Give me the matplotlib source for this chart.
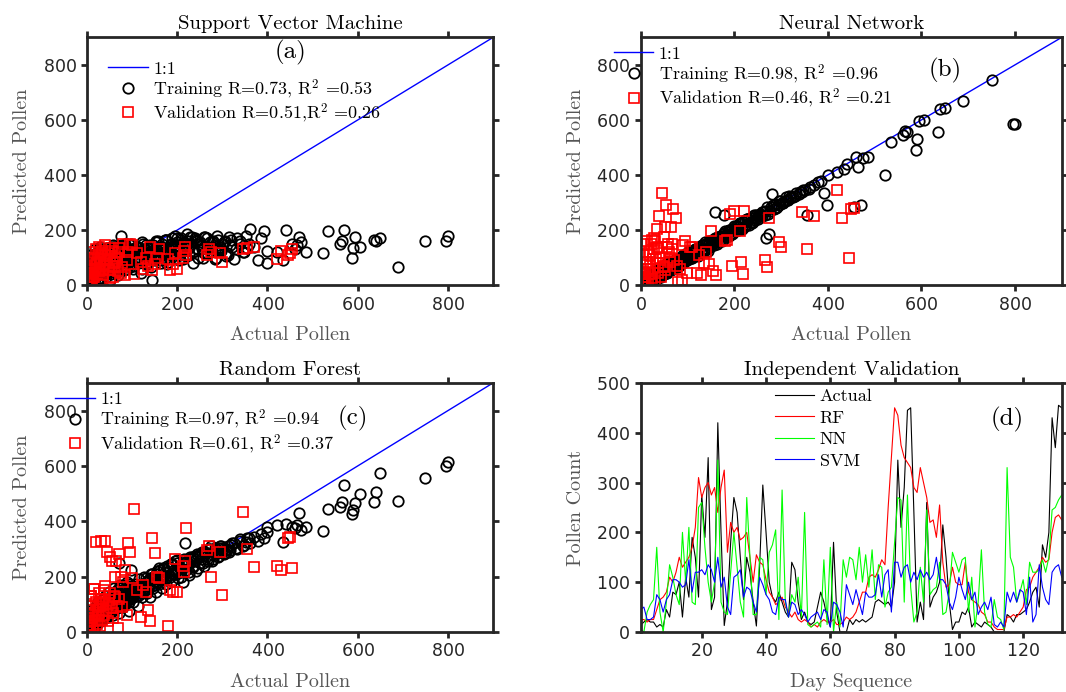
import numpy as np
import matplotlib
matplotlib.use('Agg')
from matplotlib import pyplot as plt

plt.rcParams['mathtext.fontset'] = 'cm'
plt.rcParams['font.family'] = ['cmr10', 'DejaVu Serif']
plt.rcParams['axes.formatter.use_mathtext'] = True

# training set: observed pollen (shared) and model predictions
train_actual = [2, 3, 5, 6, 8, 10, 12, 14, 15, 18, 20, 22, 25, 27, 30, 32, 35, 38, 40, 42,
                45, 48, 50, 53, 55, 58, 60, 63, 65, 68, 70, 72, 75, 78, 80, 83, 85, 88, 90, 93,
                95, 98, 102, 105, 108, 112, 115, 118, 122, 125, 128, 132, 135, 140, 143, 147, 150, 153, 158, 162,
                165, 170, 175, 178, 182, 186, 190, 195, 198, 203, 208, 212, 217, 222, 226, 230, 235, 240, 245, 250,
                256, 262, 268, 274, 280, 286, 292, 298, 305, 312, 318, 325, 332, 340, 348, 355, 362, 370, 378, 385,
                392, 398, 400, 420, 435, 440, 455, 460, 465, 470, 475, 485, 522, 535, 560, 565, 570, 588, 590, 595,
                605, 635, 640, 650, 690, 750, 795, 800,
                1, 2, 4, 4, 5, 7, 7, 9, 9, 11, 11, 13, 13, 16, 16, 17, 19, 19, 21, 21,
                23, 24, 26, 26, 28, 29, 31, 33, 34, 36, 37, 39, 41, 43, 44, 46, 47, 49, 51, 52,
                54, 56, 57, 59, 61, 62, 64, 66, 67, 69, 71, 73, 74, 76, 77, 79, 81, 82, 84, 86,
                87, 89, 91, 92, 94, 96, 97, 99, 104, 110, 117, 124, 130, 137, 145, 152, 160, 167, 173, 180,
                188, 193, 200, 206, 214, 220, 228, 237, 243, 253, 259, 265, 271, 277, 283, 289, 295, 302, 310, 320,
                3, 6, 8, 10, 12, 14, 17, 20, 22, 25, 28, 30, 33, 35, 38, 40, 43, 45, 48, 50,
                53, 55, 58, 60, 63, 65, 68, 70, 73, 75, 78, 80, 83, 85, 88, 90, 93, 95, 98, 100,
                103, 106, 109, 113, 116, 119, 123, 126, 129, 133, 136, 139, 142, 146, 149, 152, 156, 159, 163, 166,
                169, 172, 176, 179, 183, 186, 189, 192, 196, 199, 202, 205, 209, 213, 216, 219, 223, 227, 232, 236,
                241, 246, 251, 255, 260, 266, 272, 278, 284, 290, 296, 303, 308, 315, 322, 330, 338, 345, 352, 360]
train_svm = [15, 40, 25, 60, 30, 80, 45, 20, 95, 55, 110, 35, 70, 120, 50, 90, 125, 65, 100, 40,
             115, 75, 130, 60, 95, 140, 80, 110, 50, 125, 90, 135, 180, 70, 115, 100, 140, 60, 120, 85,
             145, 105, 130, 70, 115, 140, 95, 125, 60, 150, 105, 135, 85, 120, 20, 145, 100, 130, 160, 90,
             140, 115, 165, 75, 130, 150, 105, 180, 140, 120, 165, 95, 145, 185, 110, 150, 80, 170, 130, 155,
             100, 175, 140, 120, 160, 100, 145, 130, 160, 110, 145, 95, 170, 150, 120, 135, 205, 140, 90, 170,
             195, 125, 80, 120, 90, 200, 150, 130, 145, 175, 155, 120, 115, 195, 150, 160, 200, 100, 135, 175,
             140, 165, 160, 170, 65, 160, 160, 180,
             5, 20, 10, 35, 0, 50, 15, 65, 25, 85, 10, 40, 100, 20, 70, 55, 115, 30, 90, 60,
             45, 105, 25, 80, 130, 60, 95, 40, 120, 75, 50, 110, 85, 30, 135, 70, 100, 55, 125, 90,
             40, 115, 80, 140, 65, 100, 45, 130, 90, 110, 75, 125, 60, 145, 95, 110, 130, 70, 120, 100,
             140, 85, 115, 95, 130, 75, 150, 110, 125, 100, 135, 110, 145, 95, 125, 155, 110, 140, 165, 120,
             150, 130, 170, 110, 155, 140, 175, 125, 160, 145, 115, 170, 135, 155, 125, 180, 140, 150, 115, 165,
             70, 35, 110, 55, 90, 15, 130, 65, 100, 45, 140, 80, 25, 120, 60, 100, 45, 135, 85, 20,
             115, 70, 145, 50, 95, 130, 35, 110, 75, 140, 90, 120, 55, 150, 80, 105, 130, 65, 95, 125,
             60, 100, 140, 85, 120, 45, 155, 95, 130, 75, 110, 145, 65, 125, 90, 160, 105, 135, 80, 150,
             120, 95, 165, 85, 140, 110, 170, 130, 100, 155, 145, 90, 170, 125, 150, 105, 160, 135, 175, 120,
             165, 100, 150, 130, 175, 115, 155, 140, 95, 165, 125, 155, 105, 175, 140, 130, 160, 120, 180, 150]
train_nn = [5, 10, 0, 15, 5, 20, 10, 25, 15, 30, 25, 35, 20, 40, 35, 45, 30, 50, 45, 55,
            40, 60, 55, 70, 45, 65, 75, 60, 80, 70, 85, 65, 90, 80, 95, 85, 100, 80, 105, 95,
            110, 100, 110, 115, 100, 125, 120, 130, 115, 140, 125, 145, 130, 150, 125, 160, 145, 165, 265, 155,
            175, 165, 185, 255, 180, 195, 185, 205, 190, 215, 200, 225, 205, 235, 220, 240, 230, 245, 235, 255,
            250, 265, 170, 185, 330, 290, 285, 305, 300, 310, 325, 320, 335, 340, 345, 255, 355, 365, 375, 380,
            335, 290, 400, 410, 420, 440, 285, 465, 430, 290, 460, 465, 400, 520, 545, 560, 555, 490, 530, 595,
            600, 555, 640, 645, 670, 745, 585, 585,
            0, 5, 10, 0, 15, 5, 20, 0, 15, 25, 5, 20, 30, 10, 35, 25, 15, 40, 30, 20,
            35, 15, 45, 30, 40, 20, 50, 45, 25, 55, 45, 30, 60, 50, 35, 65, 55, 40, 70, 60,
            65, 45, 75, 60, 70, 55, 80, 65, 75, 60, 85, 70, 80, 90, 75, 95, 85, 70, 100, 90,
            80, 105, 95, 85, 110, 100, 90, 115, 125, 105, 130, 140, 120, 155, 150, 145, 170, 175, 160, 195,
            200, 185, 215, 205, 225, 210, 240, 225, 255, 250, 265, 255, 285, 270, 290, 280, 305, 300, 320, 315,
            20, 0, 25, 5, 30, 20, 35, 10, 40, 30, 15, 45, 35, 50, 25, 55, 30, 60, 40, 70,
            45, 75, 50, 80, 55, 70, 85, 60, 90, 80, 65, 95, 75, 100, 80, 110, 85, 105, 90, 115,
            95, 120, 100, 125, 110, 130, 105, 140, 120, 145, 125, 150, 130, 155, 140, 160, 145, 170, 150, 175,
            160, 180, 165, 190, 175, 195, 180, 200, 185, 205, 195, 215, 200, 225, 205, 230, 215, 240, 220, 245,
            230, 255, 240, 260, 250, 270, 260, 285, 275, 295, 290, 300, 305, 310, 320, 325, 330, 340, 345, 350]
train_rf = [5, 15, 10, 25, 15, 30, 20, 40, 25, 45, 30, 55, 40, 60, 45, 65, 50, 75, 55, 80,
            60, 85, 70, 95, 75, 100, 80, 110, 85, 115, 90, 250, 100, 120, 105, 130, 110, 140, 115, 150,
            120, 225, 125, 150, 130, 160, 135, 170, 140, 175, 150, 185, 155, 195, 165, 200, 170, 210, 180, 225,
            190, 230, 195, 240, 205, 245, 210, 255, 220, 235, 200, 250, 320, 255, 215, 265, 240, 275, 230, 280,
            250, 290, 255, 310, 265, 300, 275, 305, 285, 310, 295, 320, 300, 330, 315, 340, 320, 345, 330, 355,
            340, 380, 360, 385, 325, 390, 380, 375, 385, 430, 370, 380, 365, 445, 450, 470, 530, 425, 440, 465,
            500, 470, 505, 575, 475, 555, 600, 615,
            10, 0, 20, 5, 30, 10, 35, 15, 40, 20, 45, 25, 55, 10, 60, 35, 70, 25, 50, 80,
            30, 65, 45, 90, 40, 75, 55, 100, 60, 85, 70, 105, 50, 95, 80, 115, 65, 100, 120, 75,
            90, 130, 80, 110, 140, 95, 85, 125, 150, 100, 135, 90, 160, 110, 145, 120, 105, 170, 130, 115,
            150, 125, 140, 160, 110, 175, 130, 145, 160, 150, 170, 150, 195, 165, 210, 185, 230, 200, 215, 230,
            245, 210, 250, 230, 265, 240, 270, 255, 280, 265, 290, 275, 300, 280, 305, 285, 310, 300, 295, 315,
            40, 15, 60, 25, 80, 35, 50, 95, 45, 110, 70, 40, 115, 60, 90, 130, 75, 55, 145, 100,
            80, 125, 60, 160, 95, 140, 105, 70, 170, 115, 135, 90, 155, 100, 180, 120, 75, 165, 130, 150,
            110, 175, 140, 95, 190, 155, 125, 200, 165, 140, 180, 125, 210, 160, 190, 145, 220, 175, 200, 160,
            230, 190, 175, 215, 200, 245, 185, 225, 210, 260, 195, 240, 215, 180, 260, 225, 250, 205, 270, 235,
            220, 275, 250, 290, 240, 265, 300, 255, 285, 270, 310, 280, 300, 290, 320, 305, 335, 310, 325, 340]

# validation set
val_actual = [455, 450, 445, 430, 420, 370, 355, 345, 300, 295, 275, 270, 265, 220, 218, 215, 212, 200, 195, 190,
              185, 180, 160, 155, 150, 145, 140, 135, 130, 120, 105, 100, 95, 90, 85, 80, 75, 70, 65, 60,
              55, 50, 45, 40, 35, 30, 25, 20, 15, 12, 10, 8, 5, 3, 2, 28, 33, 38, 48, 52,
              58, 62, 68, 72, 78, 88, 110, 125,
              1, 3, 4, 6, 7, 9, 11, 13, 14, 16, 17, 19, 21, 23, 24, 26, 27, 29, 31, 34,
              36, 37, 41, 43, 46, 49, 53, 57, 63, 67]
val_svm = [130, 115, 110, 125, 95, 140, 135, 130, 85, 115, 120, 130, 110, 110, 140, 125, 100, 60, 115, 75,
           55, 95, 130, 100, 75, 55, 140, 70, 100, 85, 40, 145, 150, 120, 35, 150, 45, 135, 100, 70,
           125, 25, 90, 110, 60, 115, 40, 80, 30, 60, 20, 45, 10, 30, 15, 95, 20, 75, 55, 105,
           30, 85, 50, 120, 65, 90, 115, 60,
           20, 55, 35, 70, 15, 90, 45, 120, 30, 100, 60, 130, 40, 75, 110, 50, 140, 85, 65, 125,
           35, 95, 145, 70, 115, 55, 135, 80, 105, 95]
val_nn = [280, 278, 100, 245, 345, 250, 130, 265, 140, 155, 245, 65, 90, 270, 40, 85, 195, 270, 70, 260,
          165, 160, 35, 50, 195, 75, 120, 80, 35, 45, 140, 45, 160, 145, 60, 10, 245, 275, 210, 120,
          290, 175, 335, 250, 205, 160, 165, 110, 60, 80, 30, 15, 40, 5, 20, 130, 95, 140, 70, 210,
          150, 100, 130, 90, 70, 20, 140, 110,
          60, 10, 110, 30, 150, 45, 20, 85, 160, 5, 120, 70, 40, 150, 25, 95, 60, 170, 15, 135,
          80, 45, 100, 30, 115, 65, 55, 140, 85, 150]
val_rf = [230, 345, 340, 225, 240, 235, 300, 435, 135, 290, 200, 310, 295, 375, 255, 215, 240, 145, 265, 145,
          150, 20, 195, 200, 285, 340, 40, 80, 145, 55, 445, 195, 290, 320, 225, 180, 200, 280, 255, 130,
          255, 140, 290, 330, 110, 330, 80, 325, 155, 60, 130, 40, 25, 15, 50, 95, 120, 150, 100, 270,
          70, 200, 15, 120, 90, 60, 150, 170,
          15, 70, 35, 100, 25, 130, 50, 20, 80, 155, 40, 110, 60, 30, 90, 140, 70, 20, 120, 45,
          100, 60, 165, 75, 40, 115, 85, 50, 125, 95]

train_R = {'svm': ('0.73', '0.53'), 'nn': ('0.98', '0.96'), 'rf': ('0.97', '0.94')}
val_R = {'svm': ('0.51', '0.26'), 'nn': ('0.46', '0.21'), 'rf': ('0.61', '0.37')}

# independent validation time series (132 days)
actual = [14, 20, 25, 20, 20, 10, 15, 10, 45, 30, 80, 75, 100, 30, 110, 70, 190, 150, 70, 275,
          190, 350, 45, 70, 420, 200, 13, 60, 180, 270, 240, 150, 65, 150, 120, 60, 12, 130, 295, 200,
          100, 70, 60, 80, 60, 40, 30, 140, 125, 60, 25, 40, 20, 15, 20, 50, 80, 60, 30, 10,
          180, 40, 0, 0, 0, 25, 15, 25, 20, 25, 20, 25, 30, 60, 65, 60, 55, 60, 50, 100,
          345, 210, 290, 445, 450, 240, 20, 60, 25, 260, 50, 70, 80, 100, 215, 150, 60, 5, 20, 20,
          40, 35, 50, 10, 20, 15, 10, 20, 15, 10, 0, 0, 0, 0, 35, 30, 20, 35, 35, 40,
          45, 60, 80, 90, 50, 175, 150, 200, 430, 370, 455, 450]
rf = [25, 25, 20, 25, 25, 45, 65, 70, 80, 110, 100, 120, 150, 130, 140, 150, 170, 210, 310, 270,
      290, 300, 275, 290, 240, 290, 325, 160, 220, 200, 210, 185, 190, 200, 150, 100, 155, 140, 135, 105,
      80, 70, 55, 60, 70, 50, 40, 30, 40, 25, 20, 25, 20, 10, 15, 10, 20, 25, 20, 20,
      25, 15, 15, 20, 30, 25, 30, 40, 60, 80, 80, 110, 115, 110, 125, 145, 135, 250, 350, 450,
      435, 375, 350, 340, 330, 290, 280, 330, 300, 270, 220, 225, 190, 255, 140, 90, 95, 130, 100, 95,
      95, 140, 80, 65, 60, 55, 40, 35, 20, 20, 10, 5, 5, 5, 30, 30, 35, 30, 40, 50,
      85, 90, 110, 120, 130, 150, 140, 145, 200, 230, 235, 225]
nn = [5, 0, 40, 55, 65, 170, 40, 0, 60, 135, 110, 75, 55, 200, 100, 210, 60, 55, 250, 260,
      170, 100, 60, 100, 345, 60, 40, 35, 120, 200, 130, 60, 30, 270, 150, 35, 35, 150, 145, 75,
      160, 175, 205, 25, 285, 60, 30, 75, 60, 110, 30, 240, 15, 10, 15, 20, 10, 145, 15, 170,
      0, 60, 10, 145, 110, 150, 145, 105, 170, 100, 155, 90, 165, 65, 135, 130, 50, 80, 90, 180,
      270, 265, 60, 275, 90, 20, 40, 130, 60, 245, 75, 85, 90, 140, 35, 40, 80, 160, 140, 120,
      145, 150, 40, 110, 10, 60, 165, 40, 15, 10, 65, 30, 25, 5, 330, 150, 130, 60, 80, 105,
      55, 140, 120, 120, 125, 145, 120, 150, 245, 250, 265, 275]
svm = [45, 50, 25, 25, 30, 75, 65, 40, 65, 75, 105, 105, 100, 90, 95, 145, 80, 120, 120, 125,
       115, 135, 125, 100, 150, 90, 110, 50, 35, 110, 115, 125, 70, 90, 85, 60, 40, 110, 95, 75,
       65, 40, 35, 70, 65, 65, 30, 60, 55, 35, 45, 35, 20, 30, 35, 40, 25, 45, 40, 10,
       60, 55, 40, 10, 95, 75, 55, 85, 60, 35, 80, 70, 70, 75, 115, 70, 115, 125, 40, 140,
       140, 110, 130, 135, 100, 120, 105, 125, 110, 120, 105, 115, 150, 105, 105, 95, 60, 45, 70, 110,
       85, 65, 100, 65, 80, 35, 50, 60, 45, 70, 15, 10, 20, 10, 80, 60, 80, 60, 85, 80,
       35, 110, 20, 35, 135, 90, 65, 55, 120, 130, 135, 110]
days = np.arange(1, len(actual) + 1)

SPINE = '#262626'
LABEL = '#555555'


def style(ax):
    for s in ax.spines.values():
        s.set_linewidth(2.0)
        s.set_color(SPINE)
    ax.tick_params(direction='out', length=4, width=2.0, color=SPINE,
                   top=True, right=True, labelsize=12.5, labelcolor=SPINE)
    for lab in ax.get_xticklabels() + ax.get_yticklabels():
        lab.set_family('DejaVu Sans')


def scatter_panel(ax, key, title, tag, tagxy, leg_x, leg_y, comma=', '):
    tr = train_R[key]
    va = val_R[key]
    ax.plot([0, 900], [0, 900], color='#0000ff', lw=1.0, label='1:1')
    ax.plot(train_actual, {'svm': train_svm, 'nn': train_nn, 'rf': train_rf}[key], 'o',
            mfc='none', mec='k', ms=7.5, mew=1.3,
            label=r'Training R=%s, $\mathrm{R}^2$ =%s' % tr)
    ax.plot(val_actual, {'svm': val_svm, 'nn': val_nn, 'rf': val_rf}[key], 's',
            mfc='none', mec='#ff0000', ms=6.5, mew=1.2,
            label=r'Validation R=%s%s$\mathrm{R}^2$ =%s' % (va[0], comma, va[1]))
    ax.set_xlim(0, 900)
    ax.set_ylim(0, 900)
    ax.set_xticks([0, 200, 400, 600, 800])
    ax.set_yticks([0, 200, 400, 600, 800])
    style(ax)
    ax.set_title(title, fontsize=15, pad=6)
    ax.set_xlabel('Actual Pollen', fontsize=14.5, color=LABEL, labelpad=9)
    ax.set_ylabel('Predicted Pollen', fontsize=14.5, color=LABEL, labelpad=8)
    ax.text(tagxy[0], tagxy[1], tag, fontsize=18, ha='center', va='center')
    ax.legend(loc='upper left', bbox_to_anchor=(leg_x, leg_y), frameon=False,
              fontsize=13, borderpad=0, borderaxespad=0, handlelength=2.2,
              handletextpad=0.3, labelspacing=0.04)


fig = plt.figure(figsize=(10.66, 6.92), dpi=100)
ax_a = fig.add_axes([0.0816, 0.588, 0.381, 0.358])
ax_b = fig.add_axes([0.601, 0.588, 0.395, 0.358])
ax_c = fig.add_axes([0.0816, 0.0867, 0.381, 0.360])
ax_d = fig.add_axes([0.601, 0.0867, 0.395, 0.360])

scatter_panel(ax_a, 'svm', 'Support Vector Machine', '(a)', (450, 845), 0.052, 0.905, comma=',')
scatter_panel(ax_b, 'nn', 'Neural Network', '(b)', (651, 780), -0.064, 0.965)
scatter_panel(ax_c, 'rf', 'Random Forest', '(c)', (590, 773), -0.079, 0.965)

ax_d.plot(days, actual, color='k', lw=0.8, label='Actual')
ax_d.plot(days, rf, color='#ff0000', lw=0.8, label='RF')
ax_d.plot(days, nn, color='#00ff00', lw=0.8, label='NN')
ax_d.plot(days, svm, color='#0000ff', lw=0.8, label='SVM')
ax_d.set_xlim(1, 132)
ax_d.set_ylim(0, 500)
ax_d.set_xticks([20, 40, 60, 80, 100, 120])
ax_d.set_yticks([0, 100, 200, 300, 400, 500])
style(ax_d)
ax_d.set_title('Independent Validation', fontsize=15, pad=6)
ax_d.set_xlabel('Day Sequence', fontsize=14.5, color=LABEL, labelpad=9)
ax_d.set_ylabel('Pollen Count', fontsize=14.5, color=LABEL, labelpad=8)
ax_d.text(115, 426, '(d)', fontsize=18, ha='center', va='center')
ax_d.legend(loc='upper left', bbox_to_anchor=(0.318, 0.978), frameon=False,
            fontsize=13, borderpad=0, borderaxespad=0, handlelength=2.2,
            handletextpad=0.3, labelspacing=0.33)

fig.savefig('out.png', dpi=100)
